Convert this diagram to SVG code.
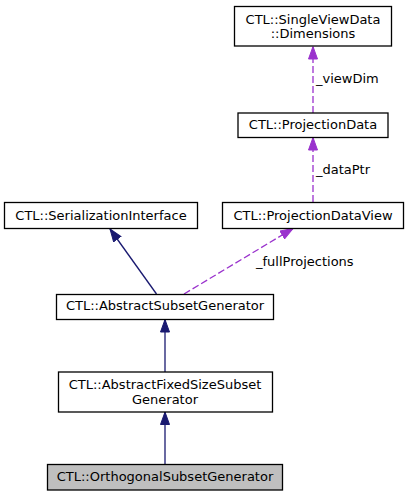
<svg xmlns="http://www.w3.org/2000/svg" width="409" height="496" viewBox="0 0 409 496">
<defs>
<marker id="ah-navy" markerWidth="13" markerHeight="10" refX="13" refY="5" orient="auto" markerUnits="userSpaceOnUse">
<path d="M0.5,0.5 L13,5 L0.5,9.5 Z" fill="#191970" stroke="#191970"/>
</marker>
<marker id="ah-purple" markerWidth="13" markerHeight="10" refX="13" refY="5" orient="auto" markerUnits="userSpaceOnUse">
<path d="M0.5,0.5 L13,5 L0.5,9.5 Z" fill="#9a32cd" stroke="#9a32cd"/>
</marker>
</defs>
<style>
text{font-family:"DejaVu Sans","Liberation Sans",sans-serif;font-size:13px;fill:#000;text-anchor:middle}
.node rect{fill:#fff;stroke:#000;stroke-width:1.3}
.node.cur rect{fill:#bfbfbf}
.inh{stroke:#191970;stroke-width:1.3;fill:none;marker-end:url(#ah-navy)}
.use{stroke:#9a32cd;stroke-width:1.3;fill:none;stroke-dasharray:7,3;marker-end:url(#ah-purple)}
.lbl{text-anchor:start}
</style>
<rect width="409" height="496" fill="#fff"/>
<g id="connectors">
<path class="use" d="M313,113 L313,46.5"/>
<text class="lbl" x="316" y="83">_viewDim</text>
<path class="use" d="M313,202 L313,137.5"/>
<text class="lbl" x="316" y="173.5">_dataPtr</text>
<path class="inh" d="M156.5,294 L110,229"/>
<path class="use" d="M184,294 L293,228.5"/>
<text class="lbl" x="256" y="266">_fullProjections</text>
<path class="inh" d="M165,372 L165,319.5"/>
<path class="inh" d="M165,464 L165,412"/>
</g>
<g id="n_dimensions" class="node">
<rect x="234.5" y="6.5" width="157" height="39.5"/>
<text x="313" y="23.5">CTL::SingleViewData</text>
<text x="313" y="38">::Dimensions</text>
</g>
<g id="n_projectiondata" class="node">
<rect x="238" y="113" width="150" height="24.5"/>
<text x="313" y="129">CTL::ProjectionData</text>
</g>
<g id="n_projectiondataview" class="node">
<rect x="222.5" y="202.5" width="181" height="26"/>
<text x="313" y="219.5">CTL::ProjectionDataView</text>
</g>
<g id="n_serialization" class="node">
<rect x="4.5" y="202.5" width="193" height="26"/>
<text x="101" y="219.5">CTL::SerializationInterface</text>
</g>
<g id="n_abstractsubset" class="node">
<rect x="56.5" y="294.5" width="217" height="25"/>
<text x="165" y="310">CTL::AbstractSubsetGenerator</text>
</g>
<g id="n_abstractfixed" class="node">
<rect x="58.5" y="372" width="214" height="40"/>
<text x="165" y="388.5">CTL::AbstractFixedSizeSubset</text>
<text x="165" y="403.5">Generator</text>
</g>
<g id="n_orthogonal" class="node cur">
<rect x="47.5" y="464.5" width="235" height="25.5"/>
<text x="165" y="481">CTL::OrthogonalSubsetGenerator</text>
</g>
</svg>
